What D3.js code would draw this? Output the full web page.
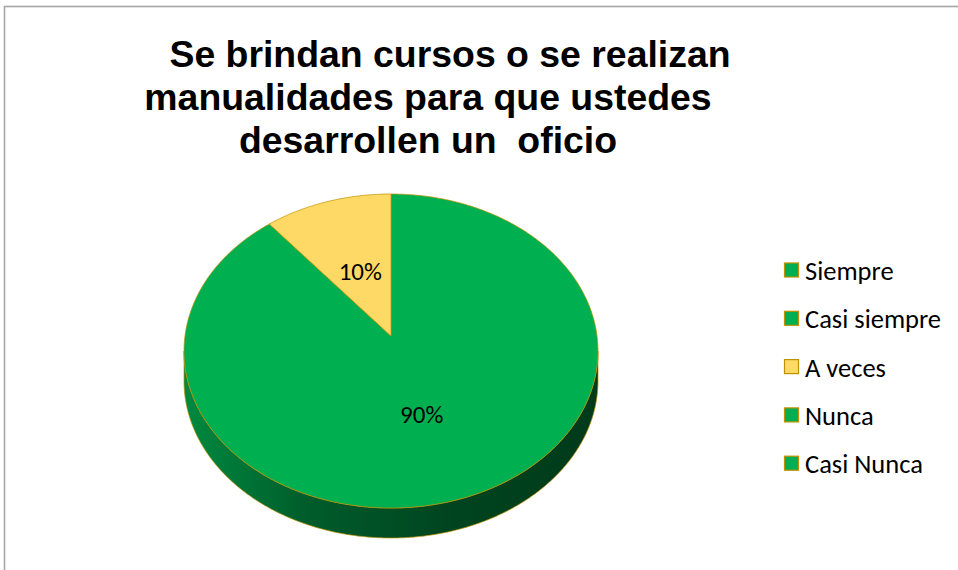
<!DOCTYPE html>
<html><head><meta charset="utf-8">
<script src="https://cdn.jsdelivr.net/npm/d3@7"></script>
<style>html,body{margin:0;padding:0;background:#fff;}svg{display:block;}</style>
</head><body>
<svg id="c" width="958" height="570"></svg>
<script>
const titleLines = ["Se brindan cursos o se realizan", "manualidades para que ustedes", "desarrollen un  oficio"];
const categories = ["Siempre", "Casi siempre", "A veces", "Nunca", "Casi Nunca"];
const values = [90, 0, 10, 0, 0];
const colors = ["#00B050", "#00B050", "#FFD966", "#00B050", "#00B050"];
const strokeColors = ["#BF9000", "#BF9000", "#BF9000", "#BF9000", "#BF9000"];

const svg = d3.select("#c");
// frame
svg.append("rect").attr("x",4.5).attr("y",6.5).attr("width",1000).attr("height",600)
  .attr("fill","#fff").attr("stroke","#a6a6a6").attr("stroke-width",1.6);

// title
const titleCenters = [450, 428, 428];
const title = svg.append("text").attr("font-family","Liberation Sans, Arial, sans-serif")
  .attr("font-weight","bold").attr("font-size",37.4).attr("fill","#000")
  .attr("text-anchor","middle").style("white-space","pre");
titleLines.forEach((t,i)=>{
  title.append("tspan").attr("x",titleCenters[i]).attr("y",67+i*43).text(t);
});

// pie geometry
const cx = 391, cy = 351, rx = 207, ry = 157, depth = 30, apexY = 336;
const pt = (a, dy=0) => [cx + rx*Math.sin(a), cy - ry*Math.cos(a) + dy];

const pie = d3.pie().sort(null).value(d=>d.v);
const data = categories.map((c,i)=>({c, v: values[i], color: colors[i], stroke: strokeColors[i]}));
const arcs = pie(data);

const defs = svg.append("defs");
const g1 = defs.append("linearGradient").attr("id","side").attr("x1","0").attr("x2","1").attr("y1","0").attr("y2","0");
g1.append("stop").attr("offset","0").attr("stop-color","#008a3f");
g1.append("stop").attr("offset","0.3").attr("stop-color","#005c2b");
g1.append("stop").attr("offset","0.65").attr("stop-color","#00441f");
g1.append("stop").attr("offset","1").attr("stop-color","#003a1a");
const g2 = defs.append("linearGradient").attr("id","sideY").attr("x1","0").attr("x2","1").attr("y1","0").attr("y2","0");
g2.append("stop").attr("offset","0").attr("stop-color","#c9a53e");
g2.append("stop").attr("offset","1").attr("stop-color","#7f6420");

function sample(a0, a1, dy) {
  const n = Math.max(2, Math.ceil(Math.abs(a1-a0)/0.01));
  const out = [];
  for (let k=0;k<=n;k++){ out.push(pt(a0+(a1-a0)*k/n, dy)); }
  return out;
}

// sides (front half: angles PI/2 .. 3PI/2)
const sideG = svg.append("g");
arcs.forEach(d=>{
  if (d.value<=0) return;
  const s = Math.max(d.startAngle, Math.PI/2), e = Math.min(d.endAngle, 3*Math.PI/2);
  if (e<=s) return;
  const top = sample(s,e,0), bot = sample(e,s,depth);
  const pts = top.concat(bot);
  sideG.append("path").attr("d","M"+pts.map(p=>p.join(",")).join("L")+"Z")
    .attr("fill", d.data.color==="#FFD966" ? "url(#sideY)" : "url(#side)")
    .attr("stroke", d.data.stroke).attr("stroke-width",0.7);
});

// tops
const topG = svg.append("g");
arcs.forEach(d=>{
  if (d.value<=0) return;
  const pts = [[cx,apexY]].concat(sample(d.startAngle,d.endAngle,0));
  topG.append("path").attr("d","M"+pts.map(p=>p.join(",")).join("L")+"Z")
    .attr("fill", d.data.color).attr("stroke", d.data.stroke).attr("stroke-width",0.7)
    .attr("stroke-linejoin","round");
});

// labels
const fmt = d3.format(".0%");
const total = d3.sum(values);
arcs.forEach(d=>{
  if (d.value<=0) return;
  const m = (d.startAngle+d.endAngle)/2;
  const p = pt(m);
  const f = 0.48;
  svg.append("text").attr("x", cx + f*(p[0]-cx)).attr("y", apexY + f*(p[1]-apexY))
    .attr("text-anchor","middle").attr("dominant-baseline","central")
    .attr("font-family","Carlito, Lato, sans-serif").attr("font-size",25).attr("fill","#000")
    .text(fmt(d.value/total));
});

// legend
const leg = svg.append("g");
categories.forEach((c,i)=>{
  const y = 270 + i*48.3;
  leg.append("rect").attr("x",784.5).attr("y",y-7).attr("width",14).attr("height",14)
    .attr("fill",colors[i]).attr("stroke",strokeColors[i]).attr("stroke-width",1.2);
  leg.append("text").attr("x",805).attr("y",y+1).attr("dominant-baseline","central")
    .attr("font-family","Carlito, Lato, sans-serif").attr("font-size",26.5).attr("fill","#000").text(c);
});
</script>
</body></html>
